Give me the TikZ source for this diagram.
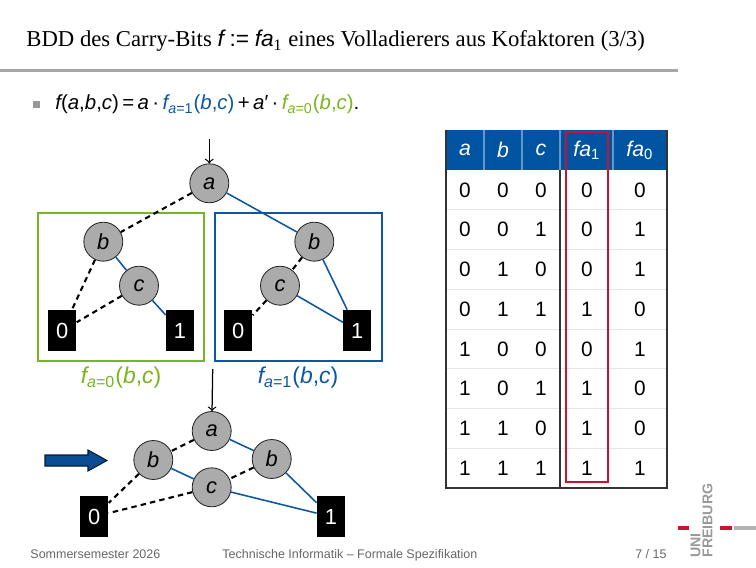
\documentclass[tikz,border=0pt]{standalone}
\usepackage{fontspec}
\setmainfont{Liberation Serif}
\setsansfont{Liberation Sans}
\usepackage{tikz}
\definecolor{bddblue}{RGB}{12,86,164}
\definecolor{bddgreen}{RGB}{122,181,29}
\definecolor{bddred}{RGB}{200,20,50}
\definecolor{hdrblue}{RGB}{0,84,162}
\def\mv#1{{\sffamily\itshape #1}}
\def\sub#1{\textsubscript{\upshape #1}}

\tikzset{
	var/.style={circle, draw=black!85, fill=black!33, minimum size=18.7pt, inner sep=0pt, font=\sffamily\itshape\fontsize{10.5}{11}\selectfont},
	leaf/.style={rectangle, fill=black, text=white, minimum width=13.4pt, minimum height=19.7pt, inner sep=0pt, font=\sffamily\fontsize{10.5}{11}\selectfont},
	lowarc/.style={line width=1pt, dash pattern=on 2.6pt off 2pt},
	higharc/.style={line width=0.75pt, color=bddblue},
	cell/.style={font=\sffamily\fontsize{10}{11}\selectfont},
	hcell/.style={text=white, font=\sffamily\itshape\fontsize{10.2}{11}\selectfont},
	foot/.style={anchor=base west, text=black!60, font=\sffamily\fontsize{6}{7}\selectfont},
	logo/.style={rotate=90, anchor=south west, inner sep=0pt, text=black!40, font=\sffamily\bfseries\fontsize{6.8}{7}\selectfont}
}

\begin{document}
\begin{tikzpicture}[x=0.48pt, y=-0.48pt]
	%%%%% START %%%%%
	\useasboundingbox (0,0) rectangle (756,567);
	
	\node[anchor=base west, inner sep=0pt, font=\fontsize{10.9}{13}\selectfont] (title) at (26,47) {BDD des Carry-Bits \mv{f} {\sffamily:=} \mv{fa}\sub{1} eines Volladierers aus Kofaktoren (3/3)};
	\fill[black!35] (0,69.5) rectangle (678,72.5);
	
	\fill[black!40] (33,101) rectangle (40,108);
	\node[anchor=base west, inner sep=0pt, font=\sffamily\fontsize{9.8}{11}\selectfont] (formula) at (55,110) {\mv{f}(\mv{a},\mv{b},\mv{c})\,=\,\mv{a}\,·\,{\color{bddblue}\mv{f}\sub{\mv{a}=1}(\mv{b},\mv{c})}\,+\,\mv{a}′\,·\,{\color{bddgreen}\mv{f}\sub{\mv{a}=0}(\mv{b},\mv{c})}.};
	
	% top BDD and its two cofactors
	\draw[line width=1.1pt, bddgreen] (38.3,212.7) rectangle (204,360.7);
	\draw[line width=1.1pt, bddblue] (215,212.7) rectangle (381.7,360.7);
	
	\node[var] (ta) at (209.3,183.3) {a};
	\node[var] (lb) at (103.3,241.7) {b};
	\node[var] (lc) at (139,285.7) {c};
	\node[leaf] (l0) at (62.3,330.7) {0};
	\node[leaf] (l1) at (180,330.7) {1};
	\node[var] (rb) at (314.3,241.7) {b};
	\node[var] (rc) at (280,285.7) {c};
	\node[leaf] (r0) at (238.3,330.7) {0};
	\node[leaf] (r1) at (357.3,330.7) {1};
	
	\coordinate (in1) at (209.3,139);
	\draw[line width=0.6pt, ->] (in1) -- (ta);
	\draw[lowarc] (ta) -- (lb);
	\draw[higharc] (ta) -- (rb);
	\draw[lowarc] (lb) -- (l0);
	\draw[higharc] (lb) -- (lc);
	\draw[lowarc] (lc) -- (l0);
	\draw[higharc] (lc) -- (l1);
	\draw[lowarc] (rb) -- (rc);
	\draw[higharc] (rb) -- (r1);
	\draw[lowarc] (rc) -- (r0);
	\draw[higharc] (rc) -- (r1);
	
	\node[text=bddgreen, font=\sffamily\fontsize{11}{12}\selectfont] (lab0) at (121,378) {\mv{f}\sub{\mv{a}=0}(\mv{b},\mv{c})};
	\node[text=bddblue, font=\sffamily\fontsize{11}{12}\selectfont] (lab1) at (298,378) {\mv{f}\sub{\mv{a}=1}(\mv{b},\mv{c})};
	
	% reduced BDD
	\node[var] (ba) at (211.7,431) {a};
	\node[var] (bbl) at (153.3,460) {b};
	\node[var] (bbr) at (271.7,459) {b};
	\node[var] (bc) at (211.7,487.3) {c};
	\node[leaf] (b0) at (94.3,516.7) {0};
	\node[leaf] (b1) at (331,516.7) {1};
	
	\coordinate (in2) at (212.7,369);
	\draw[line width=0.6pt, ->] (in2) -- (ba);
	\draw[lowarc] (ba) -- (bbl);
	\draw[higharc] (ba) -- (bbr);
	\draw[lowarc] (bbl) -- (b0);
	\draw[higharc] (bbl) -- (bc);
	\draw[lowarc] (bbr) -- (bc);
	\draw[higharc] (bbr) -- (b1);
	\draw[lowarc] (bc) -- (b0);
	\draw[higharc] (bc) -- (b1);
	
	\filldraw[fill=bddblue!90!black, draw=black!70!bddblue, line width=0.5pt] (45,455) -- (88,455) -- (88,450) -- (107,460.5) -- (88,471) -- (88,466) -- (45,466) -- cycle;
	
	% truth table
	\fill[hdrblue] (446,130) rectangle (667,170);
	\foreach \x in {484,522,560,613}
		\draw[line width=0.5pt, white!40!hdrblue] (\x,130) -- (\x,170);
	\foreach \r in {1,...,7}
		\draw[line width=0.4pt, black!10] (446,{170+39.75*\r}) -- (667,{170+39.75*\r});
	\draw[line width=0.5pt, black!80] (446,130) -- (446,488) -- (667,488) -- (667,130);
	\draw[line width=0.5pt, black!80] (560,170) -- (560,488);
	
	\node[hcell] (ha) at (465,150) {a};
	\node[hcell] (hb) at (503,150) {b};
	\node[hcell] (hc) at (541,150) {c};
	\node[hcell] (hf1) at (587,150) {fa\sub{1}};
	\node[hcell] (hf0) at (640,150) {fa\sub{0}};
	
	\foreach \a/\b/\c/\fx/\fy [count=\r] in {0/0/0/0/0, 0/0/1/0/1, 0/1/0/0/1, 0/1/1/1/0, 1/0/0/0/1, 1/0/1/1/0, 1/1/0/1/0, 1/1/1/1/1} {
		\node[cell] (a\r) at (465,{170+39.75*(\r-0.5)}) {\a};
		\node[cell] (b\r) at (503,{170+39.75*(\r-0.5)}) {\b};
		\node[cell] (c\r) at (541,{170+39.75*(\r-0.5)}) {\c};
		\node[cell] (fx\r) at (587,{170+39.75*(\r-0.5)}) {\fx};
		\node[cell] (fy\r) at (640,{170+39.75*(\r-0.5)}) {\fy};
	}
	\draw[line width=1.1pt, bddred] (566,132) rectangle (608,482);
	
	% footer
	\node[foot, inner sep=0pt] (term) at (30,558) {Sommersemester 2026};
	\node[foot, inner sep=0pt] (course) at (222,558) {Technische Informatik -- Formale Spezifikation};
	\node[foot, inner sep=0pt, anchor=base east] (page) at (667,558) {7 / 15};
	
	\draw[line width=1.5pt, bddred] (678,528) -- (689,528);
	\draw[line width=1.5pt, bddred] (720,528) -- (732,528);
	\draw[line width=1.5pt, black!30] (734,528) -- (756,528);
	\node[logo] (uni) at (701,558) {UNI};
	\node[logo] (frei) at (713,558) {FREIBURG};
	
	%%%%% END %%%%%
\end{tikzpicture}
\end{document}
